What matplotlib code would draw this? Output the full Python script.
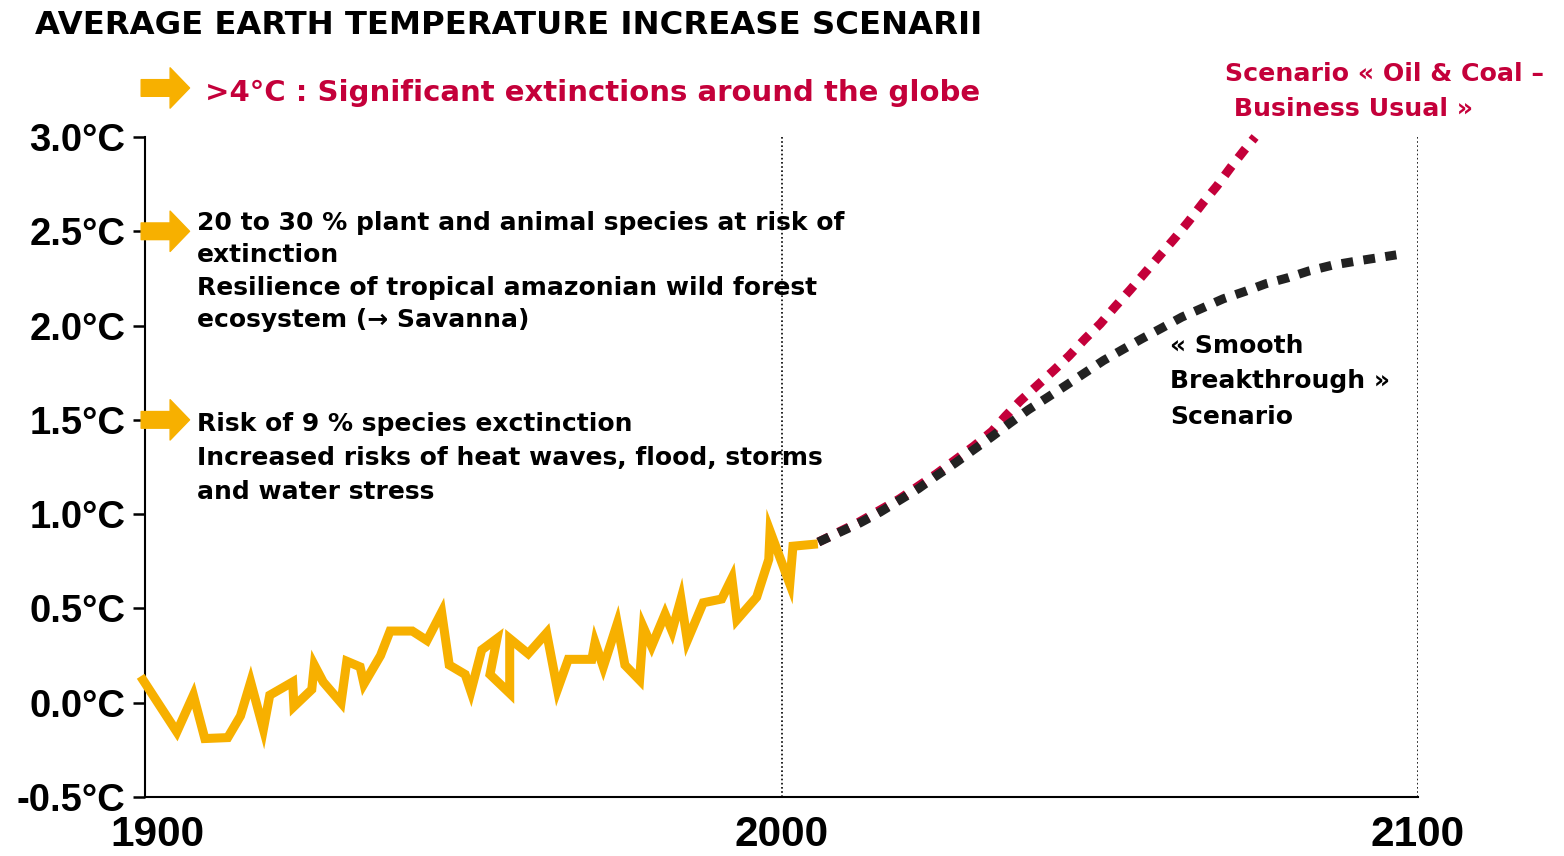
import numpy as np
import matplotlib
matplotlib.use("Agg")
import matplotlib.pyplot as plt
from matplotlib.transforms import ScaledTranslation

plt.rcParams['font.family'] = ['Liberation Sans', 'DejaVu Sans']
plt.rcParams['font.weight'] = 'bold'
TXT_FONT = ['DejaVu Sans']

obs_years = [1899.7, 1905.0, 1907.6, 1909.4, 1913.0, 1915.0, 1916.6, 1918.6, 1919.6, 1923.2,
             1923.4, 1926.2, 1926.6, 1928.0, 1930.8, 1931.7, 1933.8, 1934.4, 1937.0, 1938.5,
             1942.0, 1944.3, 1946.6, 1947.8, 1950.3, 1951.2, 1952.9, 1955.3, 1954.2, 1957.3,
             1957.3, 1960.2, 1963.1, 1964.8, 1966.5, 1970.2, 1970.7, 1972.0, 1974.2, 1975.4,
             1977.7, 1978.3, 1979.6, 1981.7, 1982.8, 1984.2, 1985.2, 1987.7, 1990.6, 1992.2,
             1993.0, 1996.1, 1998.0, 1998.2, 2001.3, 2001.8, 2005.0]
obs_temp = [0.12, -0.155, 0.04, -0.19, -0.185, -0.07, 0.11, -0.14, 0.04, 0.11,
            -0.02, 0.07, 0.20, 0.11, 0.0, 0.22, 0.19, 0.10, 0.25, 0.38,
            0.38, 0.33, 0.48, 0.20, 0.15, 0.06, 0.28, 0.34, 0.15, 0.05,
            0.34, 0.26, 0.37, 0.07, 0.23, 0.23, 0.32, 0.19, 0.42, 0.20,
            0.12, 0.40, 0.30, 0.47, 0.38, 0.55, 0.33, 0.53, 0.55, 0.66,
            0.44, 0.56, 0.76, 0.91, 0.63, 0.83, 0.84]

# scenario "Oil & Coal - Business Usual"
oil_years = [2005.8, 2012.3, 2018.5, 2024.4, 2030.2, 2033.1, 2035.2, 2037.5, 2040.1, 2042.7,
             2045.2, 2047.7, 2050.1, 2052.4, 2054.8, 2057.1, 2059.4, 2061.7, 2063.9, 2066.2,
             2068.4, 2070.6, 2072.7, 2074.4]
oil_temp = [0.852, 0.96, 1.08, 1.215, 1.36, 1.44, 1.52, 1.60, 1.68, 1.76,
            1.84, 1.93, 2.01, 2.10, 2.19, 2.28, 2.37, 2.46, 2.55, 2.65,
            2.74, 2.84, 2.93, 3.00]

# scenario "Smooth Breakthrough"
smooth_years = [2005.8, 2009.2, 2012.3, 2015.5, 2018.5, 2021.5, 2024.4, 2027.3, 2030.2, 2033.1,
                2035.9, 2038.8, 2041.7, 2044.7, 2047.6, 2050.6, 2053.6, 2056.6, 2059.8, 2062.9,
                2066.2, 2069.4, 2072.8, 2076.1, 2079.5, 2082.8, 2086.5, 2090.0, 2093.4, 2096.6]
smooth_temp = [0.852, 0.905, 0.953, 1.011, 1.073, 1.135, 1.205, 1.271, 1.342, 1.412,
               1.483, 1.554, 1.617, 1.683, 1.748, 1.815, 1.873, 1.930, 1.988, 2.045,
               2.094, 2.142, 2.181, 2.222, 2.253, 2.289, 2.32, 2.34, 2.358, 2.375]

yticks = [-0.5, 0.0, 0.5, 1.0, 1.5, 2.0, 2.5, 3.0]
ytick_labels = ['%.1f°C' % v for v in yticks]
xticks = [1900, 2000, 2100]

ORANGE = '#F7B000'
RED = '#C4003A'
DARK = '#222222'

W, H = 1564, 856
fig = plt.figure(figsize=(W / 100, H / 100), dpi=100)
ax = fig.add_axes([145 / W, 1 - 797 / H, (1418 - 145) / W, (797 - 137) / H])

ax.plot(obs_years, obs_temp, color=ORANGE, lw=6.5, solid_joinstyle='miter', clip_on=False, zorder=3)
ax.plot(oil_years, oil_temp, color=RED, lw=6.5, linestyle=(0, (1.3, 1.15)),
        dash_capstyle='butt', clip_on=False, zorder=2)
ax.plot(smooth_years, smooth_temp, color=DARK, lw=6.5, linestyle=(0, (1.3, 1.15)),
        dash_capstyle='butt', clip_on=False, zorder=4)

# dotted verticals
for xv in [2000, 2100]:
    ax.axvline(xv, color='black', lw=1.2, linestyle=(0, (1, 1.5)), zorder=1)

ax.set_xlim(1900, 2100)
ax.set_ylim(-0.5, 3.0)
ax.spines['top'].set_visible(False)
ax.spines['right'].set_visible(False)
ax.spines['left'].set_linewidth(1.5)
ax.spines['bottom'].set_linewidth(1.5)

ax.set_yticks(yticks)
ax.set_yticklabels(ytick_labels, fontsize=27.5, fontweight='bold')
ax.tick_params(axis='y', length=9, width=1.8, pad=5)
ax.set_xticks(xticks)
ax.set_xticklabels([str(x) for x in xticks], fontsize=30.5, fontweight='bold')
ax.tick_params(axis='x', length=0, pad=13)
# first year label sits a little to the right, clear of the -0.5°C label
first = ax.get_xticklabels()[0]
first.set_transform(first.get_transform() + ScaledTranslation(0.12, 0, fig.dpi_scale_trans))


def block_arrow(y):
    ax.annotate('', xy=(1907.0, y), xytext=(1899.4, y), xycoords='data',
                arrowprops=dict(arrowstyle='simple,head_length=14,head_width=29,tail_width=12',
                                mutation_scale=1, color=ORANGE, shrinkA=0, shrinkB=0),
                annotation_clip=False, zorder=5)


block_arrow(2.5)
block_arrow(1.5)
block_arrow(3.26)

# va='baseline' on multi-line text aligns the last line's baseline
fig.text(35 / W, 1 - 34 / H, 'AVERAGE EARTH TEMPERATURE INCREASE SCENARII', family=TXT_FONT,
         fontsize=23.2, fontweight='bold', color='black', va='baseline', ha='left')
fig.text(205 / W, 1 - 101 / H, '>4°C : Significant extinctions around the globe', family=TXT_FONT,
         fontsize=21, fontweight='bold', color=RED, va='baseline', ha='left')
fig.text(1225 / W, 1 - 116 / H, 'Scenario « Oil & Coal –\n Business Usual »', family=TXT_FONT,
         fontsize=18.2, fontweight='bold', color=RED, va='baseline', ha='left', linespacing=1.6)

ax.text(1908.2, 1.994, '20 to 30 % plant and animal species at risk of\nextinction\n'
        'Resilience of tropical amazonian wild forest\necosystem (→ Savanna)', family=TXT_FONT,
        fontsize=18, fontweight='bold', va='baseline', ha='left', linespacing=1.43)
ax.text(1908.2, 1.082, 'Risk of 9 % species exctinction\nIncreased risks of heat waves, flood, storms\n'
        'and water stress', family=TXT_FONT,
        fontsize=18, fontweight='bold', va='baseline', ha='left', linespacing=1.53)
ax.text(2061, 1.479, '« Smooth\nBreakthrough »\nScenario', family=TXT_FONT,
        fontsize=18, fontweight='bold', va='baseline', ha='left', linespacing=1.6)

fig.savefig('out.png', dpi=100)
